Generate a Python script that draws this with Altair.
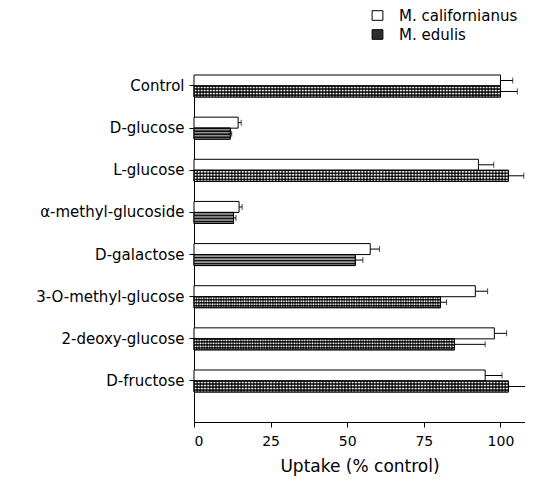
import base64
import altair as alt
import pandas as pd

# ---- data ----
categories = ["Control", "D-glucose", "L-glucose", "α-methyl-glucoside",
              "D-galactose", "3-O-methyl-glucose", "2-deoxy-glucose", "D-fructose"]
series = ["M. californianus", "M. edulis"]
cal_values = [100, 14.4, 92.8, 14.7, 57.5, 91.8, 98, 95]
cal_errors = [4, 1, 5, 1, 3, 4, 4, 5.5]
edu_values = [100, 11.8, 102.6, 12.9, 52.6, 80.4, 85, 102.6]
edu_errors = [5.5, 0.5, 5, 0.8, 2.5, 2, 10, 11]
x_ticks = [0, 25, 50, 75, 100]

rows = []
for s, vals, errs in [(series[0], cal_values, cal_errors), (series[1], edu_values, edu_errors)]:
    for c, v, e in zip(categories, vals, errs):
        rows.append({"cat": c, "series": s, "value": v, "hi": v + e})
df = pd.DataFrame(rows)

FONT = "DejaVu Sans"
PLOT_W, PLOT_H = 331, 347
BAR_H = 11

# cross-hatch texture (drawn unscaled inside the image mark)
hatch_svg = (
    '<svg xmlns="http://www.w3.org/2000/svg" width="600" height="40">'
    '<defs><pattern id="h" width="6" height="%d" patternUnits="userSpaceOnUse">'
    '<rect width="6" height="%d" fill="black"/>'
    '<path d="M3,1.6 L5.8,5.5 L3,9.4 L0.2,5.5 Z" fill="white"/>'
    '</pattern></defs><rect width="100%%" height="100%%" fill="url(#h)"/></svg>'
) % (BAR_H, BAR_H)
hatch_uri = "data:image/svg+xml;base64," + base64.b64encode(hatch_svg.encode()).decode()

x_scale = alt.Scale(domain=[0, 108], nice=False, zero=True)
y_enc = alt.Y("cat:N", sort=categories,
              scale=alt.Scale(paddingInner=0.478, paddingOuter=0.356, align=0),
              axis=alt.Axis(title=None, labelFont=FONT, labelFontSize=15, labelColor="black",
                            labelPadding=5, tickSize=5, tickColor="black", domainColor="black",
                            tickWidth=1, domainWidth=1))
yoff = alt.YOffset("series:N", sort=series, scale=alt.Scale(domain=series, paddingInner=0, paddingOuter=0))

base = alt.Chart(df)

bars = base.mark_bar(stroke="black", strokeWidth=1).encode(
    x=alt.X("value:Q", scale=x_scale,
            axis=alt.Axis(values=x_ticks, title="Uptake (% control)", grid=False,
                          labelFont=FONT, labelFontSize=14, labelColor="black", labelPadding=7,
                          tickSize=5, tickColor="black", domainColor="black",
                          titleFont=FONT, titleFontSize=17, titleFontWeight="normal",
                          titleColor="black", titlePadding=10)),
    y=y_enc,
    yOffset=yoff,
    fill=alt.Fill("series:N", sort=series,
                  scale=alt.Scale(domain=series, range=["white", "#2e2e2e"]),
                  legend=alt.Legend(title=None, orient="none", legendX=176, legendY=-67,
                                    symbolType="M-0.9,-0.8H0.9V0.8H-0.9Z", symbolSize=144,
                                    symbolStrokeColor="black", symbolStrokeWidth=1,
                                    labelFont=FONT, labelFontSize=15, labelColor="black",
                                    labelOffset=14, rowPadding=3)),
)

edu = base.transform_filter(alt.datum.series == series[1])

hatch = edu.mark_image(aspect=False).encode(
    x=alt.X("value:Q", scale=x_scale),
    x2=alt.datum(0),
    y=alt.Y("cat:N", sort=categories),
    yOffset=yoff,
    url=alt.value(hatch_uri),
)

outline = edu.mark_bar(fillOpacity=0, stroke="black", strokeWidth=1).encode(
    x=alt.X("value:Q", scale=x_scale),
    y=alt.Y("cat:N", sort=categories),
    yOffset=yoff,
)

err = base.mark_rule(color="black", strokeWidth=1).encode(
    x=alt.X("value:Q", scale=x_scale),
    x2="hi:Q",
    y=alt.Y("cat:N", sort=categories),
    yOffset=yoff,
)

caps = base.mark_tick(color="black", thickness=1, size=6).encode(
    x=alt.X("hi:Q", scale=x_scale),
    y=alt.Y("cat:N", sort=categories),
    yOffset=yoff,
)

chart = alt.layer(bars, hatch, outline, err, caps).properties(
    width=PLOT_W, height=PLOT_H,
    autosize=alt.AutoSizeParams(type="none"),
    padding={"left": 186, "top": 67, "right": 0, "bottom": 56},
    background="white",
).configure_view(stroke=None)

chart.save("out.html", embed_options={"renderer": "svg", "actions": False})
